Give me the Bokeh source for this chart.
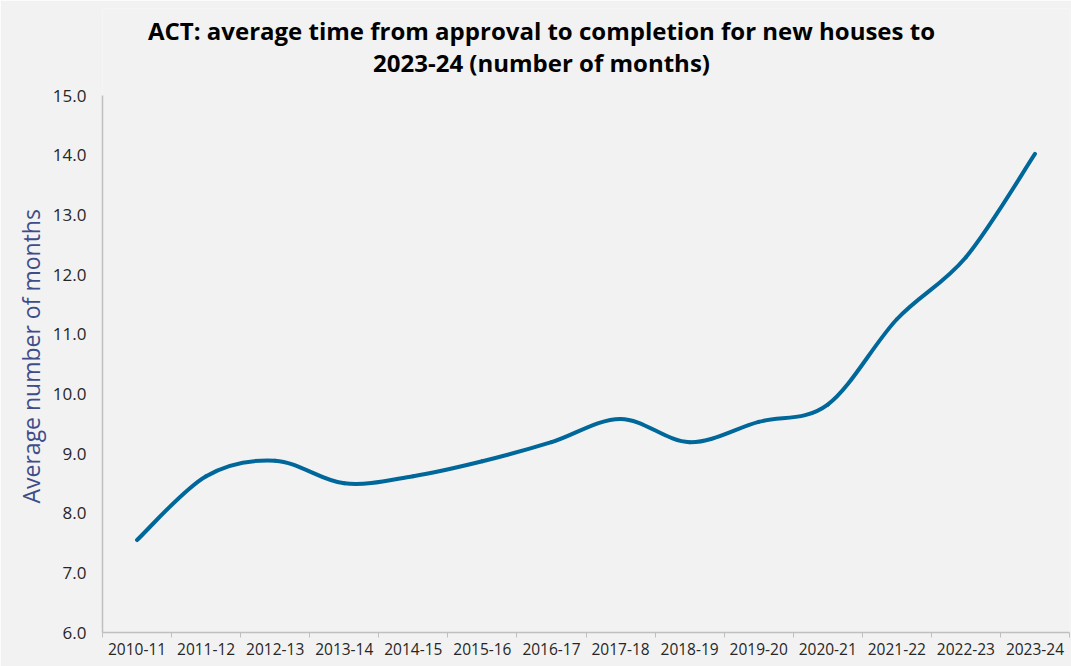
from bokeh.plotting import figure
from bokeh.models import Range1d, FixedTicker, NumeralTickFormatter, Label, Title
from bokeh.embed import file_html
from bokeh.resources import INLINE

categories = ["2010-11", "2011-12", "2012-13", "2013-14", "2014-15", "2015-16", "2016-17",
              "2017-18", "2018-19", "2019-20", "2020-21", "2021-22", "2022-23", "2023-24"]
values = [7.55, 8.62, 8.88, 8.50, 8.62, 8.87, 9.19, 9.58, 9.19, 9.53, 9.82, 11.25, 12.29, 14.02]
y_ticks = [6, 7, 8, 9, 10, 11, 12, 13, 14, 15]
title_lines = ["ACT: average time from approval to completion for new houses to",
               "2023-24 (number of months)"]
y_label = "Average number of months"

FONT = "Open Sans"
BG = "#F2F2F2"

# layout in pixels
FRAME_W = 967
FRAME_H = 624          # frame extends up into the title area
AXIS_PX = 537          # pixels covered by the 6..15 axis
px_per_unit = AXIS_PX / (y_ticks[-1] - y_ticks[0])
y_top = y_ticks[0] + FRAME_H / px_per_unit
px_per_cat = FRAME_W / len(categories)

p = figure(frame_width=FRAME_W, frame_height=FRAME_H, output_backend="svg", toolbar_location=None,
           x_range=Range1d(0, len(categories)), y_range=Range1d(y_ticks[0], y_top),
           min_border_left=102, min_border_right=2, min_border_top=8, min_border_bottom=34)
p.background_fill_color = BG
p.border_fill_color = BG
p.outline_line_color = None
p.xgrid.visible = False
p.ygrid.visible = False

# two-line centred title (placed above the 15.0 tick inside the frame)
title_x = (541 - 102) / px_per_cat
for txt, dy in zip(title_lines, [65, 33]):
    p.add_layout(Label(x=title_x, y=y_ticks[-1] + dy / px_per_unit, text=txt,
                       text_align="center", text_baseline="middle", text_font=FONT,
                       text_font_style="bold", text_font_size="24px", text_color="#000000"))

# y axis title, centred on the 6..15 part of the axis
yt = Title(text=y_label, align="left", offset=129, text_font=FONT, text_font_style="normal",
           text_font_size="23px", text_color="#3F4C8A", standoff=6)
p.add_layout(yt, "left")

xs = [i + 0.5 for i in range(len(categories))]
centers = {x: c for x, c in zip(xs, categories)}

# smoothed line (cubic Bezier segments through the data points)
t = 1.0 / 6.0
n = len(xs)
x0, y0, x1, y1, cx0, cy0, cx1, cy1 = [], [], [], [], [], [], [], []
for i in range(n - 1):
    pm = i - 1 if i > 0 else i
    pp = i + 2 if i + 2 < n else i + 1
    x0.append(xs[i]); y0.append(values[i])
    x1.append(xs[i + 1]); y1.append(values[i + 1])
    cx0.append(xs[i] + (xs[i + 1] - xs[pm]) * t)
    cy0.append(values[i] + (values[i + 1] - values[pm]) * t)
    cx1.append(xs[i + 1] - (xs[pp] - xs[i]) * t)
    cy1.append(values[i + 1] - (values[pp] - values[i]) * t)
p.bezier(x0=x0, y0=y0, x1=x1, y1=y1, cx0=cx0, cy0=cy0, cx1=cx1, cy1=cy1,
         line_color="#00679A", line_width=4, line_cap="round")

# x axis
xa = p.xaxis[0]
xa.ticker = FixedTicker(ticks=xs, minor_ticks=list(range(len(categories) + 1)))
xa.major_label_overrides = centers
xa.major_tick_in = 0
xa.major_tick_out = 0
xa.minor_tick_in = 0
xa.minor_tick_out = 5
xa.minor_tick_line_color = "#BFBFBF"
xa.axis_line_color = "#BFBFBF"
xa.axis_line_width = 1.5
xa.major_label_text_font = FONT
xa.major_label_text_font_size = "15.5px"
xa.major_label_text_color = "#262626"
xa.major_label_standoff = 5

# y axis
ya = p.yaxis[0]
ya.ticker = FixedTicker(ticks=y_ticks)
ya.bounds = (y_ticks[0], y_ticks[-1])
ya.formatter = NumeralTickFormatter(format="0.0")
ya.major_tick_in = 0
ya.major_tick_out = 0
ya.minor_tick_in = 0
ya.minor_tick_out = 0
ya.axis_line_color = "#BFBFBF"
ya.axis_line_width = 1.5
ya.major_label_text_font = FONT
ya.major_label_text_font_size = "17px"
ya.major_label_text_color = "#262626"
ya.major_label_standoff = 16

open("out.html", "w").write(file_html(p, INLINE))
